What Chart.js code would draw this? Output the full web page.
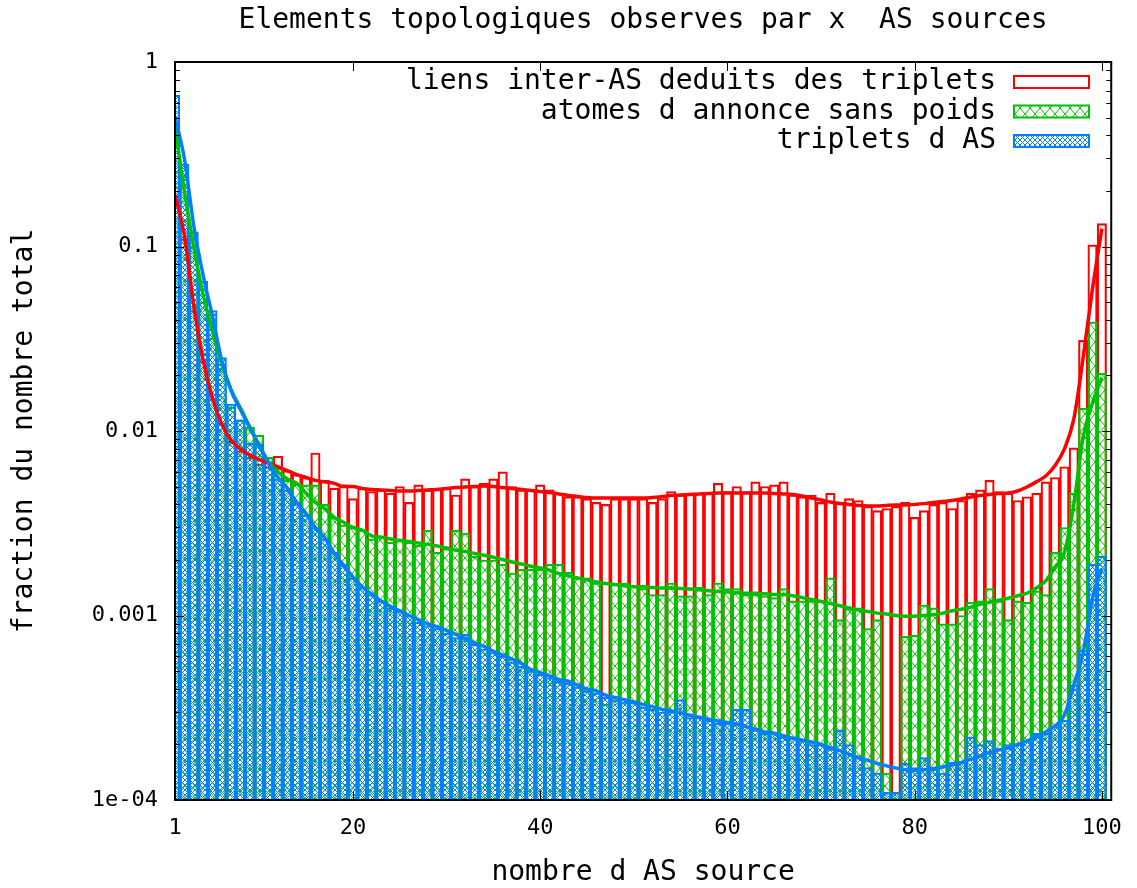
<!DOCTYPE html>
<html>
<head>
<meta charset="utf-8">
<script src="https://cdn.jsdelivr.net/npm/chart.js@4/dist/chart.umd.min.js"></script>
<style>
html,body{margin:0;padding:0;background:#fff;}
#wrap{width:1137px;height:888px;}
</style>
</head>
<body>
<div id="wrap"><canvas id="c" width="1137" height="888"></canvas></div>
<script>
// ---- data ----
const sourceCounts = [1,2,3,4,5,6,7,8,9,10,11,12,13,14,15,16,17,18,19,20,21,22,23,24,25,26,27,28,29,30,31,32,33,34,35,36,37,38,39,40,41,42,43,44,45,46,47,48,49,50,51,52,53,54,55,56,57,58,59,60,61,62,63,64,65,66,67,68,69,70,71,72,73,74,75,76,77,78,79,80,81,82,83,84,85,86,87,88,89,90,91,92,93,94,95,96,97,98,99,100];

const liensBars = [0.19,0.11,0.045,0.024,0.015,0.011,0.0088,0.0078,0.0072,0.0066,
0.0064,0.0073,0.0061,0.0058,0.0056,0.0076,0.0054,0.0049,0.0051,0.0043,
0.0049,0.0047,0.0048,0.0046,0.005,0.0041,0.0051,0.0048,0.0049,0.0049,
0.0045,0.0055,0.005,0.0052,0.0055,0.006,0.005,0.0048,0.0048,0.0051,
0.0048,0.0046,0.0044,0.0044,0.0043,0.0041,0.004,0.0043,0.0043,0.0043,
0.0043,0.0041,0.0043,0.0047,0.0045,0.0046,0.0046,0.0046,0.0052,0.0047,
0.005,0.0047,0.0053,0.005,0.0051,0.0053,0.0045,0.0044,0.0045,0.0041,
0.0046,0.0041,0.0043,0.0042,0.0039,0.0037,0.0038,0.0039,0.0041,0.0034,
0.0037,0.004,0.0041,0.0038,0.0042,0.0046,0.0048,0.0054,0.0047,0.0046,
0.0042,0.0044,0.0046,0.0053,0.0056,0.0064,0.0081,0.031,0.102,0.133];

const atomesBars = [0.5,0.24,0.1,0.05,0.032,0.022,0.0135,0.0115,0.0105,0.0095,
0.0072,0.0063,0.0054,0.0052,0.0051,0.0051,0.004,0.0034,0.0031,0.003,
0.0029,0.0026,0.0027,0.0025,0.0026,0.0025,0.0024,0.0029,0.0022,0.0023,
0.0029,0.0028,0.0021,0.002,0.002,0.0019,0.0017,0.00178,0.00178,0.00178,
0.0019,0.0019,0.00172,0.0016,0.0016,0.0015,0.00033,0.0015,0.0015,0.00145,
0.0014,0.0013,0.0013,0.0015,0.00128,0.00128,0.00142,0.0013,0.0015,0.0014,
0.0014,0.0013,0.0013,0.00128,0.00125,0.0014,0.0012,0.0012,0.0012,0.0012,
0.0016,0.00095,0.00109,0.0011,0.00085,0.00095,0.00014,0.00011,0.00077,0.00078,
0.00114,0.0011,0.0009,0.0009,0.001,0.00118,0.0012,0.0014,0.0012,0.00095,
0.0012,0.00118,0.00136,0.0013,0.0022,0.003,0.0046,0.0133,0.039,0.0206];

const tripletsBars = [0.66,0.28,0.12,0.065,0.045,0.025,0.014,0.0115,0.0086,0.0085,
0.0068,0.0055,0.0048,0.0041,0.0035,0.003,0.0026,0.0022,0.0019,0.0016,
0.00143,0.0013,0.0012,0.0011,0.00106,0.001,0.00092,0.00088,0.00085,0.0008,
0.00076,0.00079,0.0007,0.00066,0.00063,0.0006,0.00056,0.00053,0.0005,0.00048,
0.00046,0.00044,0.00043,0.00041,0.00039,0.00038,0.00036,0.00035,0.00034,0.00034,
0.00032,0.00031,0.0003,0.0003,0.00035,0.00028,0.00028,0.00027,0.00026,0.00026,
0.00031,0.00031,0.00024,0.00023,0.00023,0.00022,0.00022,0.00021,0.0002,0.0002,
0.00019,0.00024,0.0002,0.00017,0.00015,0.00014,0.00011,0.00011,0.000158,0.00015,
0.00017,0.000147,0.00014,0.00016,0.00016,0.00022,0.0002,0.00021,0.00019,0.0002,
0.0002,0.00021,0.00023,0.00023,0.00025,0.00027,0.00042,0.00065,0.0019,0.0021];

const liensSmooth = [0.19,0.115,0.048,0.0243,0.0151,0.0109,0.0089,0.008,0.0074,0.007,
0.0067,0.0064,0.0061,0.0058,0.0056,0.0054,0.0053,0.0052,0.005,0.005,
0.00488,0.00482,0.00479,0.00476,0.00473,0.00473,0.00476,0.00479,0.00482,0.00488,
0.00494,0.00497,0.005,0.00504,0.005,0.00494,0.00488,0.00482,0.00476,0.0047,
0.00464,0.00456,0.00447,0.00442,0.00436,0.00433,0.00433,0.00433,0.00433,0.00433,
0.00433,0.00436,0.00441,0.00447,0.0045,0.00453,0.00456,0.00458,0.00461,0.00461,
0.00461,0.00461,0.00461,0.00461,0.00458,0.00456,0.00453,0.00444,0.00433,0.00423,
0.00412,0.00405,0.004,0.00395,0.00392,0.00392,0.00395,0.00397,0.00397,0.004,
0.00404,0.0041,0.00415,0.0042,0.00428,0.00439,0.00447,0.00453,0.00458,0.00461,
0.00473,0.00497,0.0053,0.0057,0.0065,0.008,0.0116,0.025,0.059,0.125];

const atomesSmooth = [0.45,0.2,0.1,0.055,0.035,0.023,0.0167,0.0133,0.0105,0.0084,
0.0068,0.006,0.0055,0.0052,0.0046,0.0041,0.0038,0.0034,0.0032,0.003,
0.0029,0.0027,0.00266,0.0026,0.00255,0.00252,0.00247,0.00243,0.00238,0.00232,
0.00226,0.00222,0.00217,0.00212,0.00207,0.00201,0.00195,0.0019,0.00185,0.00181,
0.00176,0.00169,0.00164,0.0016,0.00156,0.00152,0.00149,0.00147,0.00145,0.00143,
0.00143,0.00142,0.00141,0.00141,0.0014,0.00139,0.00138,0.00136,0.00135,0.00134,
0.00133,0.00132,0.00132,0.00131,0.0013,0.0013,0.00128,0.00125,0.00122,0.00119,
0.00116,0.00113,0.0011,0.00107,0.00105,0.00103,0.00102,0.001,0.00099,0.00099,
0.001,0.00101,0.00103,0.00106,0.00108,0.00111,0.00115,0.00118,0.00121,0.00124,
0.00128,0.00132,0.00141,0.00154,0.00183,0.0022,0.004,0.0093,0.0142,0.0195];

const tripletsSmooth = [0.5,0.3,0.13,0.07,0.042,0.024,0.0165,0.013,0.0104,0.0083,
0.0067,0.0056,0.0049,0.0041,0.00355,0.003,0.00263,0.00218,0.00188,0.00162,
0.00143,0.00131,0.0012,0.00112,0.00106,0.001,0.00095,0.0009,0.00087,0.00083,
0.00079,0.00075,0.00071,0.00068,0.00064,0.00061,0.00058,0.00055,0.00051,0.00049,
0.00047,0.00045,0.00044,0.00042,0.0004,0.00039,0.00037,0.00036,0.00035,0.00034,
0.00033,0.00032,0.00031,0.000304,0.000296,0.000288,0.000281,0.000274,0.000268,0.000263,
0.000258,0.00025,0.000242,0.000234,0.00023,0.000223,0.000216,0.000211,0.000206,0.0002,
0.000192,0.000185,0.000177,0.00017,0.000164,0.000158,0.000153,0.000149,0.000146,0.000145,
0.000146,0.000148,0.000151,0.000155,0.00016,0.000166,0.000173,0.000181,0.000187,0.000191,
0.0002,0.000209,0.000219,0.000234,0.000252,0.000289,0.00042,0.00063,0.00124,0.0018];

const seriesLabels = ['liens inter-AS deduits des triplets', 'atomes d annonce sans poids', 'triplets d AS'];
const xTickValues = [1, 20, 40, 60, 80, 100];
const yTickValues = [1, 0.1, 0.01, 0.001, 0.0001];
const yTickLabels = ['1', '0.1', '0.01', '0.001', '1e-04'];
const chartTitle = 'Elements topologiques observes par x  AS sources';
const xTitle = 'nombre d AS source';
const yTitle = 'fraction du nombre total';

// ---- styles ----
const RED = '#ff0000', GREEN = '#00c000', BLUE = '#0080ff';
const MONO = '"DejaVu Sans Mono", "Liberation Mono", monospace';

function hatch(color, w, h, lw) {
  const c = document.createElement('canvas');
  c.width = w; c.height = h;
  const g = c.getContext('2d');
  g.strokeStyle = color; g.lineWidth = lw;
  g.beginPath();
  g.moveTo(0, 0); g.lineTo(w, h);
  g.moveTo(w, 0); g.lineTo(0, h);
  g.stroke();
  return g.createPattern(c, 'repeat');
}
const greenPattern = hatch(GREEN, 10, 12, 1);
const bluePattern = hatch(BLUE, 5, 5, 1);

const pts = arr => sourceCounts.map((x, i) => ({x: x, y: arr[i]}));

const frame = {
  id: 'frame',
  afterDatasetsDraw(chart) {
    const {ctx, chartArea: a, scales: {x, y}} = chart;
    ctx.save();
    ctx.strokeStyle = '#000';
    ctx.lineWidth = 1;
    ctx.beginPath();
    for (let e = -4; e <= 0; e++) {
      for (let m = 1; m <= 9; m++) {
        const v = m * Math.pow(10, e);
        if (v > 1.0000001) continue;
        const p = Math.round(y.getPixelForValue(v)) + 0.5;
        const len = m === 1 ? 9 : 5;
        ctx.moveTo(a.left, p); ctx.lineTo(a.left + len, p);
        ctx.moveTo(a.right, p); ctx.lineTo(a.right - len, p);
      }
    }
    xTickValues.forEach(v => {
      const p = Math.round(x.getPixelForValue(v)) + 0.5;
      ctx.moveTo(p, a.bottom); ctx.lineTo(p, a.bottom - 9);
      ctx.moveTo(p, a.top); ctx.lineTo(p, a.top + 9);
    });
    ctx.stroke();
    ctx.lineWidth = 2;
    ctx.strokeRect(a.left, a.top, a.right - a.left, a.bottom - a.top);
    ctx.restore();
  }
};

const keyBox = {
  id: 'keyBox',
  afterDraw(chart) {
    const ctx = chart.ctx;
    const rows = chart.data.datasets.filter(d => d.keyRow !== undefined);
    ctx.save();
    ctx.font = '28px ' + MONO;
    ctx.textAlign = 'right';
    ctx.textBaseline = 'middle';
    rows.forEach(d => {
      const yc = 82 + d.keyRow * 29.5;
      ctx.fillStyle = '#000';
      ctx.fillText(d.label, 996, yc);
      ctx.fillStyle = '#fff';
      ctx.fillRect(1014, yc - 6, 75, 12);
      ctx.fillStyle = d.backgroundColor;
      ctx.fillRect(1014, yc - 6, 75, 12);
      ctx.strokeStyle = d.borderColor;
      ctx.lineWidth = 2;
      ctx.strokeRect(1014, yc - 6, 75, 12);
    });
    ctx.restore();
  }
};

new Chart(document.getElementById('c'), {
  type: 'bar',
  data: {
    datasets: [
      {type: 'line', label: seriesLabels[2] + ' (lissage)', data: pts(tripletsSmooth), borderColor: BLUE, borderWidth: 3.5, pointRadius: 0, cubicInterpolationMode: 'monotone', fill: false, order: 1},
      {type: 'line', label: seriesLabels[1] + ' (lissage)', data: pts(atomesSmooth), borderColor: GREEN, borderWidth: 3.5, pointRadius: 0, cubicInterpolationMode: 'monotone', fill: false, order: 2},
      {type: 'line', label: seriesLabels[0] + ' (lissage)', data: pts(liensSmooth), borderColor: RED, borderWidth: 3.5, pointRadius: 0, cubicInterpolationMode: 'monotone', fill: false, order: 3},
      {label: seriesLabels[2], keyRow: 2, data: pts(tripletsBars), backgroundColor: bluePattern, borderColor: BLUE, borderWidth: 1.5, borderSkipped: 'start', grouped: false, barPercentage: 1, categoryPercentage: 1, order: 4},
      {label: seriesLabels[1], keyRow: 1, data: pts(atomesBars), backgroundColor: greenPattern, borderColor: GREEN, borderWidth: 1.5, borderSkipped: 'start', grouped: false, barPercentage: 1, categoryPercentage: 1, order: 5},
      {label: seriesLabels[0], keyRow: 0, data: pts(liensBars), backgroundColor: 'rgba(0,0,0,0)', borderColor: RED, borderWidth: 1.5, borderSkipped: 'start', grouped: false, barPercentage: 1, categoryPercentage: 1, order: 6}
    ]
  },
  options: {
    responsive: false,
    devicePixelRatio: 1,
    animation: false,
    layout: {padding: {left: 0, right: 23, top: 0, bottom: 0}},
    plugins: {
      legend: {display: false},
      tooltip: {enabled: false},
      title: {
        display: true, text: chartTitle, fullSize: false, color: '#000',
        font: {family: MONO, size: 28, weight: 'normal', lineHeight: 1},
        padding: {top: 7, bottom: 27}
      }
    },
    scales: {
      x: {
        type: 'linear', min: 1, max: 101, offset: false,
        grid: {display: false, drawTicks: false},
        border: {display: false},
        afterBuildTicks: s => { s.ticks = xTickValues.map(v => ({value: v})); },
        afterFit: s => { s.height = 88; },
        ticks: {autoSkip: false, maxRotation: 0, padding: 15, color: '#000',
          font: {family: MONO, size: 22}},
        title: {display: true, text: xTitle, color: '#000',
          font: {family: MONO, size: 28, lineHeight: 1}, padding: {top: 0, bottom: 1}}
      },
      y: {
        type: 'logarithmic', min: 0.0001, max: 1,
        grid: {display: false, drawTicks: false},
        border: {display: false},
        afterBuildTicks: s => { s.ticks = yTickValues.map(v => ({value: v, major: true})); },
        afterFit: s => { s.width = 175; },
        ticks: {autoSkip: false, padding: 17, color: '#000',
          font: {family: MONO, size: 22},
          callback: v => { const i = yTickValues.indexOf(v); return i >= 0 ? yTickLabels[i] : ''; }},
        title: {display: true, text: yTitle, color: '#000',
          font: {family: MONO, size: 28, lineHeight: 1}, padding: {top: 11, bottom: 0}}
      }
    }
  },
  plugins: [frame, keyBox]
});
</script>
</body>
</html>
